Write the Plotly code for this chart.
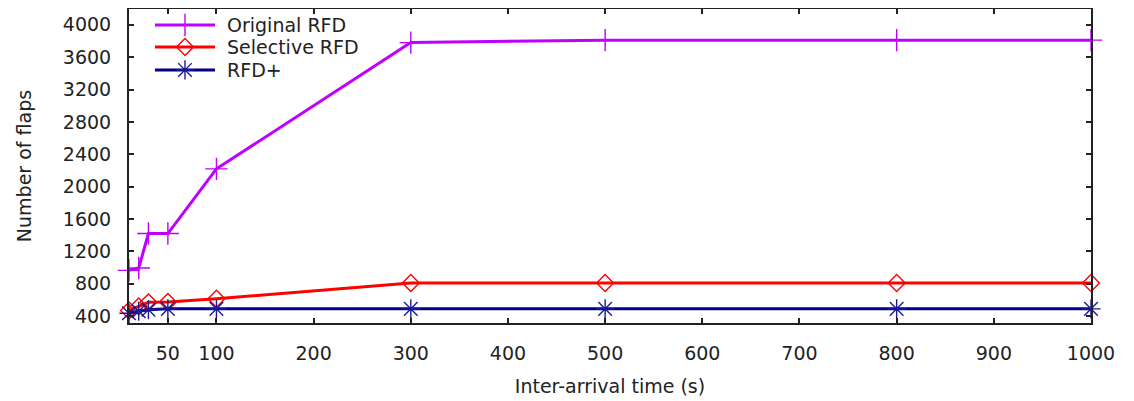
import plotly.graph_objects as go

x_orig = [10, 20, 30, 50, 100, 300, 500, 800, 1000]
y_orig = [965, 995, 1420, 1420, 2220, 3780, 3810, 3810, 3810]

x_sel = [10, 20, 30, 50, 100, 300, 500, 800, 1000]
y_sel = [470, 520, 570, 575, 615, 810, 810, 810, 810]

x_plus = [10, 20, 30, 50, 100, 300, 500, 800, 1000]
y_plus = [435, 460, 480, 490, 490, 490, 490, 490, 490]

x_ticks = [50, 100, 200, 300, 400, 500, 600, 700, 800, 900, 1000]
y_ticks = [400, 800, 1200, 1600, 2000, 2400, 2800, 3200, 3600, 4000]

series_names = ["Original RFD", "Selective RFD", "RFD+"]
line_colors = ["#c000ff", "#ff0000", "#000080"]
marker_colors = ["#c000ff", "#ff0000", "#1a1a99"]
symbols = ["cross-thin-open", "diamond-open", "asterisk-open"]
sizes = [16, 13, 16]

FONT = "DejaVu Sans"

fig = go.Figure()
data = [(x_orig, y_orig), (x_sel, y_sel), (x_plus, y_plus)]
for (xs, ys), name, lc, mc, sym, sz in zip(data, series_names, line_colors, marker_colors, symbols, sizes):
    fig.add_trace(go.Scatter(x=xs, y=ys, mode="lines+markers", name=name,
                             line=dict(color=lc, width=3), cliponaxis=False,
                             marker=dict(symbol=sym, size=sz, color=mc,
                                         line=dict(width=1.4, color=mc))))

# legend drawn on an overlay axis (0..1 in both directions)
leg_y = [0.949, 0.879, 0.806]
for i, (name, lc, mc, sym, sz) in enumerate(zip(series_names, line_colors, marker_colors, symbols, sizes)):
    fig.add_trace(go.Scatter(x=[0.027, 0.0894], y=[leg_y[i], leg_y[i]], mode="lines",
                             line=dict(color=lc, width=3), xaxis="x2", yaxis="y2",
                             showlegend=False, hoverinfo="skip"))
    fig.add_trace(go.Scatter(x=[0.0582], y=[leg_y[i]], mode="markers",
                             marker=dict(symbol=sym, size=sz, color=mc, line=dict(width=1.4, color=mc)),
                             xaxis="x2", yaxis="y2", showlegend=False, hoverinfo="skip"))
    fig.add_annotation(x=0.0998, y=leg_y[i], xref="paper", yref="paper", text=name,
                       showarrow=False, xanchor="left", yanchor="middle",
                       font=dict(family=FONT, size=19, color="#222"))

axis_common = dict(showline=True, linecolor="#222", linewidth=2, mirror="ticks",
                   ticks="inside", ticklen=5, tickwidth=1.5, tickcolor="#222",
                   showgrid=False, zeroline=False, automargin=False)

# the page body has an 8px default margin, so margins are offset accordingly
fig.update_layout(
    width=1134, height=401,
    margin=dict(l=121, r=51, t=1, b=86),
    paper_bgcolor="white", plot_bgcolor="white",
    font=dict(family=FONT, size=19, color="#222"),
    showlegend=False,
    xaxis=dict(range=[10, 1000], tickvals=x_ticks, ticktext=[str(v) for v in x_ticks],
               title=dict(text="Inter-arrival time (s)", standoff=17, font=dict(size=19)),
               ticklabelstandoff=12, **axis_common),
    yaxis=dict(range=[315, 4195], tickvals=y_ticks, ticktext=[str(v) for v in y_ticks],
               title=dict(text="Number of flaps", standoff=26, font=dict(size=19)),
               ticklabelstandoff=12, **axis_common),
    xaxis2=dict(range=[0, 1], overlaying="x", visible=False, fixedrange=True),
    yaxis2=dict(range=[0, 1], overlaying="y", visible=False, fixedrange=True),
)

fig.write_html("out.html")
